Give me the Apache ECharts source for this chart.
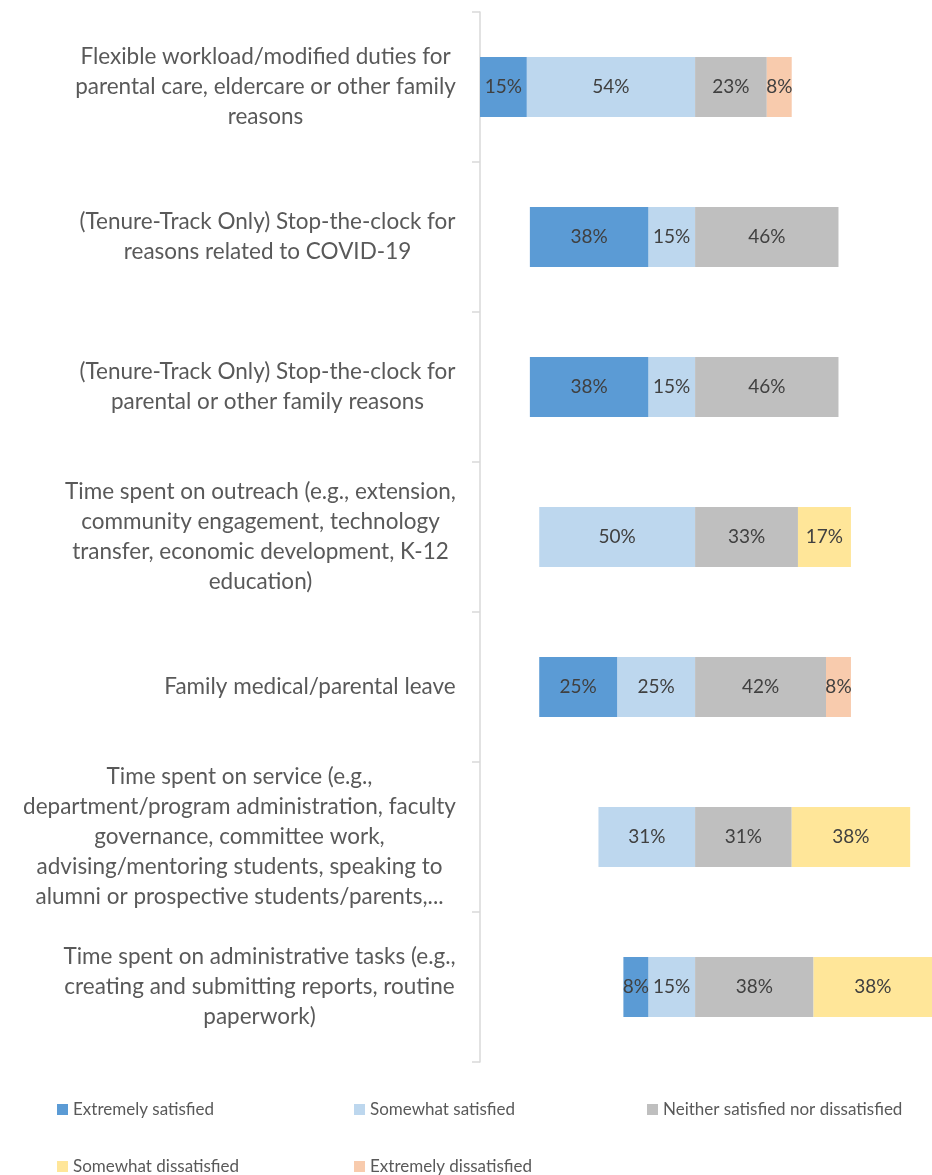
<!DOCTYPE html>
<html>
<head>
<meta charset="utf-8">
<script src="https://cdn.jsdelivr.net/npm/echarts@6/dist/echarts.min.js"></script>
<style>
  html, body { margin: 0; padding: 0; background: #fff; }
  #main { width: 932px; height: 1175px; }
</style>
</head>
<body>
<div id="main"></div>
<script>
var categories = [
  'Flexible workload/modified duties for\nparental care, eldercare or other family\nreasons',
  '(Tenure-Track Only) Stop-the-clock for\nreasons related to COVID-19',
  '(Tenure-Track Only) Stop-the-clock for\nparental or other family reasons',
  'Time spent on outreach (e.g., extension,\ncommunity engagement, technology\ntransfer, economic development, K-12\neducation)',
  'Family medical/parental leave',
  'Time spent on service (e.g.,\ndepartment/program administration, faculty\ngovernance, committee work,\nadvising/mentoring students, speaking to\nalumni or prospective students/parents,...',
  'Time spent on administrative tasks (e.g.,\ncreating and submitting reports, routine\npaperwork)'
];
// percentages; null = no segment
var extremelySatisfied    = [15, 38, 38, null, 25, null, 8];
var somewhatSatisfied     = [54, 15, 15, 50, 25, 31, 15];
var neither               = [23, 46, 46, 33, 42, 31, 38];
var somewhatDissatisfied  = [null, null, null, 17, null, 38, 38];
var extremelyDissatisfied = [8, null, null, null, 8, null, null];

var names = ['Extremely satisfied', 'Somewhat satisfied', 'Neither satisfied nor dissatisfied',
             'Somewhat dissatisfied', 'Extremely dissatisfied'];
var colors = ['#5B9BD5', '#BDD7EE', '#BFBFBF', '#FFE699', '#F8CBAD'];

var catFont = 22.5;
var fontFam = 'Lato';

function neg(arr) {
  return arr.map(function (v) { return v == null ? null : -v; });
}

// each label block is right-aligned to the axis, its lines centred in the block
var ctx = document.createElement('canvas').getContext('2d');
ctx.font = catFont + 'px ' + fontFam;
var rich = {};
categories.forEach(function (c, i) {
  var w = 0;
  c.split('\n').forEach(function (l) { w = Math.max(w, ctx.measureText(l).width); });
  rich['r' + i] = {
    width: Math.ceil(w) + 2,
    align: 'center',
    color: '#595959',
    fontFamily: fontFam,
    fontSize: catFont,
    lineHeight: 30
  };
});

var labelStyle = {
  show: true,
  position: 'inside',
  color: '#404040',
  fontFamily: fontFam,
  fontSize: 19,
  formatter: function (p) { return Math.abs(p.value) + '%'; }
};

function bar(name, data, color) {
  return {
    name: name,
    type: 'bar',
    stack: 'all',
    barWidth: 60,
    data: data,
    itemStyle: { color: color },
    label: labelStyle,
    emphasis: { disabled: true }
  };
}

var myChart = echarts.init(document.getElementById('main'));

// one legend per item so each sits where the original had it
var legendPos = [[57, 1101], [354, 1101], [647, 1101], [57, 1158], [354, 1158]];
var legends = names.map(function (n, i) {
  return {
    data: [n],
    left: legendPos[i][0],
    top: legendPos[i][1],
    icon: 'rect',
    itemWidth: 11,
    itemHeight: 11,
    itemGap: 4,
    padding: 0,
    selectedMode: false,
    textStyle: { color: '#595959', fontFamily: fontFam, fontSize: 17 }
  };
});

var option = {
  animation: false,
  grid: { left: 480, right: 0, top: 12, bottom: 113, containLabel: false },
  legend: legends,
  xAxis: {
    type: 'value',
    min: -69,
    max: 76,
    show: false,
    splitLine: { show: false }
  },
  yAxis: {
    type: 'category',
    inverse: true,
    data: categories,
    axisLine: { show: true, onZero: false, lineStyle: { color: '#D9D9D9', width: 1.5 } },
    axisTick: { show: true, length: 8, lineStyle: { color: '#D9D9D9', width: 1.5 } },
    axisLabel: {
      margin: 23,
      align: 'right',
      rich: rich,
      formatter: function (v, i) {
        return v.split('\n').map(function (l) { return '{r' + i + '|' + l + '}'; }).join('\n');
      }
    }
  },
  series: [
    bar(names[1], neg(somewhatSatisfied), colors[1]),
    bar(names[0], neg(extremelySatisfied), colors[0]),
    bar(names[2], neither, colors[2]),
    bar(names[3], somewhatDissatisfied, colors[3]),
    bar(names[4], extremelyDissatisfied, colors[4])
  ]
};
myChart.setOption(option);
</script>
</body>
</html>
